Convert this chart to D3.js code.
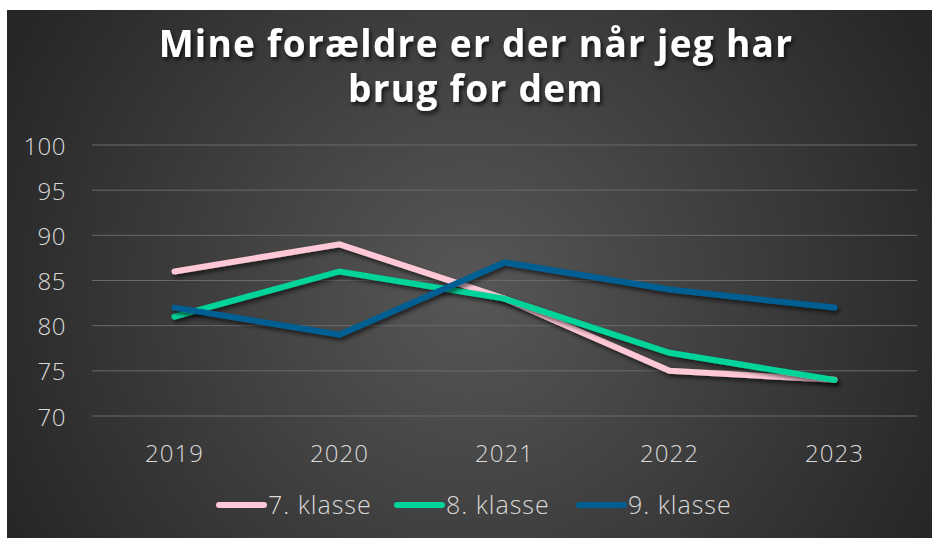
<!DOCTYPE html>
<html>
<head>
<meta charset="utf-8">
<script src="https://cdn.jsdelivr.net/npm/d3@7.9.0/dist/d3.min.js"></script>
<style>
  html, body { margin: 0; padding: 0; background: #fff; }
  svg { display: block; }
  text { font-family: "Open Sans", "Noto Sans", sans-serif; }
</style>
</head>
<body>
<svg id="chart" width="933" height="538"></svg>
<script>
// ---- data ----
const years = ["2019", "2020", "2021", "2022", "2023"];
const seriesNames = ["7. klasse", "8. klasse", "9. klasse"];
const klasse7 = [86, 89, 83, 75, 74];
const klasse8 = [81, 86, 83, 77, 74];
const klasse9 = [82, 79, 87, 84, 82];
const yTicks = [70, 75, 80, 85, 90, 95, 100];
const colors = ["#ffc8d6", "#00d49a", "#005f92"];

const series = [klasse7, klasse8, klasse9].map((vals, i) => ({
  name: seriesNames[i],
  color: colors[i],
  values: vals.map((v, j) => ({ year: years[j], value: v }))
}));

const svg = d3.select("#chart");
const W = 933, H = 538;

// ---- background ----
const defs = svg.append("defs");
const grad = defs.append("radialGradient")
  .attr("id", "bg")
  .attr("gradientUnits", "userSpaceOnUse")
  .attr("cx", 470).attr("cy", 290).attr("r", 520);
grad.append("stop").attr("offset", "0%").attr("stop-color", "#575757");
grad.append("stop").attr("offset", "100%").attr("stop-color", "#262626");

const shadow = defs.append("filter").attr("id", "shadow")
  .attr("x", "-10%").attr("y", "-10%").attr("width", "120%").attr("height", "140%");
shadow.append("feDropShadow")
  .attr("dx", 2).attr("dy", 3).attr("stdDeviation", 2)
  .attr("flood-color", "#000").attr("flood-opacity", 0.6);

const tshadow = defs.append("filter").attr("id", "tshadow")
  .attr("x", "-5%").attr("y", "-20%").attr("width", "110%").attr("height", "150%");
tshadow.append("feDropShadow")
  .attr("dx", 2).attr("dy", 3).attr("stdDeviation", 2)
  .attr("flood-color", "#000").attr("flood-opacity", 0.7);

svg.append("rect")
  .attr("x", 7).attr("y", 10)
  .attr("width", W - 8).attr("height", H - 10)
  .attr("fill", "url(#bg)");

// ---- title (two lines, as in the original) ----
const titleLines = ["Mine forældre er der når jeg har", "brug for dem"];
svg.append("g")
  .attr("filter", "url(#tshadow)")
  .selectAll("text")
  .data(titleLines)
  .join("text")
  .attr("x", 476)
  .attr("y", (d, i) => 57 + i * 45)
  .attr("text-anchor", "middle")
  .attr("fill", "#ffffff")
  .attr("font-size", 37)
  .attr("font-weight", 700)
  .attr("letter-spacing", 1.3)
  .text(d => d);

// ---- scales ----
const x = d3.scaleBand().domain(years).range([92, 917]);
const y = d3.scaleLinear().domain([70, 100]).range([416, 145]);

// ---- grid ----
svg.append("g")
  .selectAll("line")
  .data(yTicks)
  .join("line")
  .attr("x1", 92).attr("x2", 917)
  .attr("y1", d => y(d)).attr("y2", d => y(d))
  .attr("stroke", "#6a6a6a")
  .attr("stroke-width", 1);

// ---- axes ----
const yAxis = svg.append("g")
  .attr("transform", "translate(66,0)")
  .call(d3.axisLeft(y).tickValues(yTicks).tickSize(0).tickPadding(0));
yAxis.select(".domain").remove();
yAxis.selectAll("text")
  .attr("fill", "#d9d9d9")
  .attr("font-size", 24)
  .attr("font-weight", 300)
  .attr("letter-spacing", 0.5)
  .attr("dy", "0.38em");

const xAxis = svg.append("g")
  .attr("transform", "translate(0,453)")
  .call(d3.axisBottom(x).tickSize(0).tickPadding(0));
xAxis.select(".domain").remove();
xAxis.selectAll("text")
  .attr("fill", "#d9d9d9")
  .attr("font-size", 24)
  .attr("font-weight", 300)
  .attr("letter-spacing", 1)
  .attr("dy", "0.38em");

// ---- lines ----
const line = d3.line()
  .x(d => x(d.year) + x.bandwidth() / 2)
  .y(d => y(d.value));

svg.append("g")
  .selectAll("path")
  .data(series)
  .join("path")
  .attr("d", d => line(d.values))
  .attr("fill", "none")
  .attr("stroke", d => d.color)
  .attr("stroke-width", 6)
  .attr("stroke-linecap", "round")
  .attr("stroke-linejoin", "miter")
  .attr("filter", "url(#shadow)");

// ---- legend ----
const legendX = [219, 397, 579];
const legend = svg.append("g")
  .selectAll("g")
  .data(series)
  .join("g")
  .attr("transform", (d, i) => `translate(${legendX[i]},505)`);
legend.append("line")
  .attr("x1", 0).attr("x2", 45)
  .attr("stroke", d => d.color)
  .attr("stroke-width", 6)
  .attr("stroke-linecap", "round");
legend.append("text")
  .attr("x", 49)
  .attr("dy", "0.36em")
  .attr("fill", "#d9d9d9")
  .attr("font-size", 25)
  .attr("font-weight", 300)
  .attr("letter-spacing", 1)
  .text(d => d.name);
</script>
</body>
</html>
